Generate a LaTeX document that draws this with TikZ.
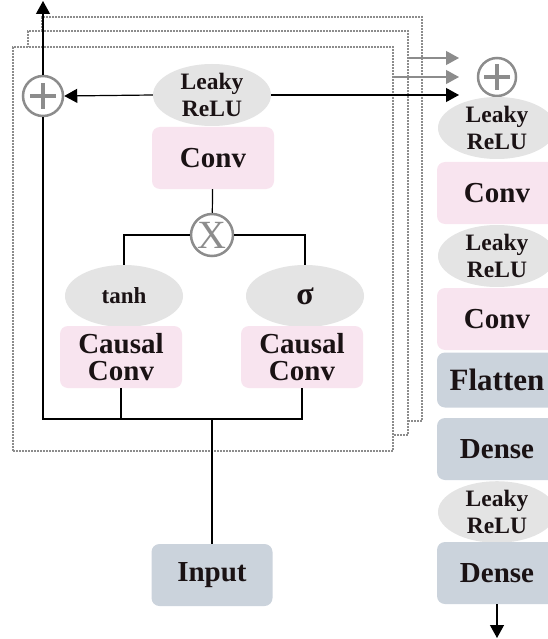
\documentclass[tikz,border=0pt]{standalone}
\usepackage{fontspec}
\setmainfont{Liberation Serif}
\usepackage{xcolor}
\usepackage{tikz}
\usetikzlibrary{arrows.meta,positioning,shapes.geometric,calc}
\definecolor{convpink}{HTML}{F8E4EF}
\definecolor{actgray}{HTML}{E4E4E4}
\definecolor{densegray}{HTML}{CBD3DC}
\definecolor{opgray}{HTML}{8C8C8C}
\definecolor{inkdark}{HTML}{1A1214}
\tikzset{
  convbox/.style={fill=convpink, rounded corners=8pt, minimum width=122pt, minimum height=62pt, inner sep=0pt, align=center, text=inkdark, font=\bfseries\fontsize{29}{27}\selectfont},
  densebox/.style={fill=densegray, rounded corners=8pt, minimum width=121pt, minimum height=62pt, inner sep=0pt, align=center, text=inkdark, font=\bfseries\fontsize{29}{28}\selectfont},
  actfn/.style={ellipse, fill=actgray, minimum width=118pt, minimum height=62pt, inner sep=0pt, align=center, text=inkdark, font=\bfseries\fontsize{23.5}{27}\selectfont},
  addop/.style={circle, draw=opgray, line width=2.5pt, fill=white, minimum size=40pt, inner sep=0pt,
    path picture={\draw[opgray, line width=4pt] ($(path picture bounding box.center)+(-13pt,0)$) -- ($(path picture bounding box.center)+(13pt,0)$)
      ($(path picture bounding box.center)+(0,-13pt)$) -- ($(path picture bounding box.center)+(0,13pt)$);}},
  mulop/.style={circle, draw=opgray, line width=2.5pt, fill=white, minimum size=42pt, inner sep=0pt, text=opgray, font=\fontsize{40}{40}\selectfont},
  stack/.style={draw=gray!90, dash pattern=on 1.6pt off 1.4pt, line width=1.6pt, fill=white, minimum width=380pt, minimum height=404pt, inner sep=0pt, outer sep=0pt, anchor=north west},
  wire/.style={line width=1.2pt},
  flow/.style={wire, -{Triangle[length=13pt, width=14pt]}},
  gflow/.style={wire, draw=opgray, -{Triangle[length=13pt, width=14pt]}},
}
\begin{document}
\begin{tikzpicture}[x=1pt,y=1pt]
  \useasboundingbox (0,0) rectangle (547,-639);

  % Stacked residual blocks (back to front)
  \node[stack] (stackC) at (42,-17) {};
  \node[stack] (stackB) at (28,-31) {};
  \node[stack] (stackA) at (13,-47) {};

  % Residual block
  \node[addop] (plusL) at (43,-96) {};
  \node[actfn] (lreluA) at (212,-95) {Leaky\\ReLU};
  \node[convbox] (convA) at (213,-158) {Conv};
  \node[mulop] (mult) at (212,-235) {X};
  \node[actfn, font=\bfseries\fontsize{23}{24}\selectfont] (tanhN) at (124,-296) {tanh};
  \node[actfn, font=\bfseries\fontsize{32}{32}\selectfont] (sigN) at (305,-296) {σ};
  \node[convbox] (ccL) at (121,-357) {Causal\\Conv};
  \node[convbox] (ccR) at (302,-357) {Causal\\Conv};
  \node[densebox] (inp) at (212,-575) {Input};

  % Output head
  \node[addop, minimum size=38pt] (plusR) at (497,-77) {};
  \node[actfn] (lreluB) at (497,-128) {Leaky\\ReLU};
  \node[convbox, minimum width=120pt] (convB) at (497,-193) {Conv};
  \node[actfn] (lreluC) at (497,-256) {Leaky\\ReLU};
  \node[convbox, minimum width=120pt] (convC) at (497,-319) {Conv};
  \node[densebox, minimum width=120pt, minimum height=55pt, font=\bfseries\fontsize{31}{31}\selectfont] (flat) at (497,-380) {Flatten};
  \node[densebox, minimum width=120pt] (denseA) at (497,-449) {Dense};
  \node[actfn, minimum height=60pt] (lreluD) at (497,-512) {Leaky\\ReLU};
  \node[densebox, minimum width=120pt] (denseB) at (497,-573) {Dense};

  \coordinate (bus) at (212,-419);
  \coordinate (outTop) at (43,-1);
  \coordinate (outBot) at (497,-638);
  \coordinate (tipA) at (459,-58);
  \coordinate (tipB) at (459,-77);
  \coordinate (tipC) at (459,-95);

  % Connections
  \draw[wire] (convA) -- (mult);
  \draw[wire] (mult.west) -| (tanhN.north);
  \draw[wire] (mult.east) -| (sigN.north);
  \draw[wire] (plusL.south) -- (plusL.south |- bus) -- (ccR.south |- bus) -- (ccR.south);
  \draw[wire] (ccL.south) -- (ccL.south |- bus);
  \draw[wire] (inp.north) -- (bus);
  \draw[flow] (lreluA.west) -- (plusL.east);
  \draw[flow] (plusL.north) -- (outTop);
  \draw[flow] (lreluA.east) -- (tipC);
  \draw[gflow] (tipA -| stackB.east) -- (tipA);
  \draw[gflow] (tipB -| stackA.east) -- (tipB);
  \draw[flow] (denseB.south) -- (outBot);
\end{tikzpicture}
\end{document}
